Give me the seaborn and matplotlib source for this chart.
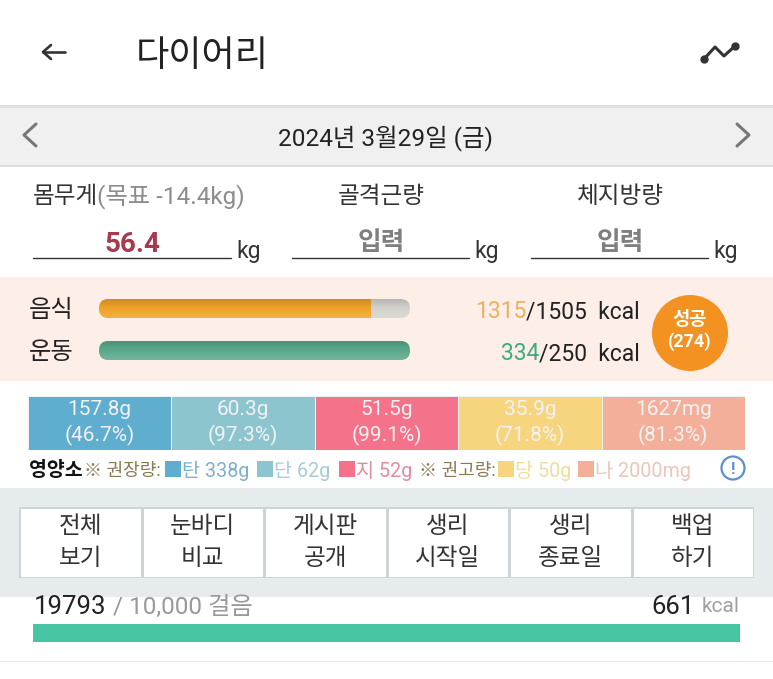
import matplotlib
matplotlib.use("Agg")
import matplotlib.pyplot as plt
import numpy as np
import seaborn as sns
from matplotlib.colors import ListedColormap
from matplotlib.patches import Ellipse, FancyBboxPatch, Rectangle

W, H = 773, 679

# values
FOOD_KCAL, FOOD_GOAL = 1315, 1505
EXERCISE_KCAL, EXERCISE_GOAL = 334, 250
STEPS, STEP_GOAL = 19793, 10000
STEP_KCAL = 661
RESULT_KCAL = 274
WEIGHT = 56.4
WEIGHT_GOAL_DIFF = -14.4

MACRO_AMOUNTS = ["157.8g", "60.3g", "51.5g", "35.9g", "1627mg"]
MACRO_PCTS = [46.7, 97.3, 99.1, 71.8, 81.3]
MACRO_COLORS = ["#5FADCF", "#8DC5CF", "#F4738B", "#F6D57E", "#F4AF9A"]

LEGEND_NAMES = ["탄 338g", "단 62g", "지 52g", "당 50g", "나 2000mg"]
LEGEND_TEXT_COLORS = ["#7FB0CB", "#A3CDD5", "#E08CA0", "#F0DC9E", "#EDC4B8"]

MENU_TOP = ["전체", "눈바디", "게시판", "생리", "생리", "백업"]
MENU_BOTTOM = ["보기", "비교", "공개", "시작일", "종료일", "하기"]

FIELDS = ["골격근량", "체지방량"]

sns.set_theme(style="white")
plt.rcParams["font.family"] = ["Roboto", "Noto Sans CJK KR", "DejaVu Sans"]


def px_axes(fig, x0, y0, x1, y1):
    ax = fig.add_axes([x0 / W, 1 - y1 / H, (x1 - x0) / W, (y1 - y0) / H])
    ax.set_axis_off()
    return ax


def progress_bar(fig, base, box, value, goal, color, track, rounded=True, shade=True):
    x0, y0, x1, y1 = box
    ax = px_axes(fig, x0, y0, x1, y1)
    sns.barplot(x=[goal], y=[0], orient="h", color=track, width=1, saturation=1, linewidth=0, ax=ax)
    sns.barplot(x=[value], y=[0], orient="h", color=color, width=1, saturation=1, linewidth=0, ax=ax)
    ax.set_xlim(0, goal)
    ax.set_ylim(0.5, -0.5)
    ax.set_axis_off()
    artists = list(ax.patches)
    if shade:
        # darker top edge, lighter bottom edge like the app's bars
        grad = np.zeros((32, 1, 4))
        grad[:, 0, 3] = np.abs(np.linspace(0.14, -0.14, 32))
        grad[16:, 0, :3] = 1
        artists.append(ax.imshow(grad, extent=(0, goal, 0.5, -0.5), aspect="auto", zorder=5))
        ax.set_xlim(0, goal)
        ax.set_ylim(0.5, -0.5)
    if rounded:
        r = (y1 - y0) / 2
        clip = FancyBboxPatch((x0, y0), x1 - x0, y1 - y0, boxstyle=f"round,pad=0,rounding_size={r}",
                              transform=base.transData)
        for a in artists:
            a.set_clip_path(clip)
    return ax


def plot_diary():
    fig = plt.figure(figsize=(W / 100, H / 100), dpi=100, facecolor="white")
    base = fig.add_axes([0, 0, 1, 1])
    base.set_xlim(0, W)
    base.set_ylim(H, 0)
    base.set_axis_off()

    def band(y0, y1, color, x0=0, x1=W, z=1):
        base.add_patch(Rectangle((x0, y0), x1 - x0, y1 - y0, color=color, lw=0, zorder=z))

    def text(x, y, s, size=16, color="#222222", ha="left", weight="normal", z=3):
        # va=center sits a little high with these fonts
        return base.text(x, y + size * 0.12, s, fontsize=size, color=color, ha=ha, va="center",
                         fontweight=weight, zorder=z)

    # header
    text(136, 53, "다이어리", size=26)
    base.plot([43, 65], [52, 52], color="#333333", lw=1.9)
    base.plot([51, 43, 51], [45, 52, 59], color="#333333", lw=1.9)
    base.plot([704, 715, 724, 735], [59, 47, 56, 46], color="#333333", lw=2.2, marker="o", ms=5, markevery=[0, 3])

    # date bar
    band(105, 108, "#E0E0E0")
    band(108, 165, "#F0F0F0")
    band(165, 166.5, "#DDDDDD")
    text(386, 136, "2024년 3월29일 (금)", size=17.6, ha="center")
    base.plot([36, 24, 36], [124, 135, 146], color="#777777", lw=2.2)
    base.plot([737, 749, 737], [124, 135, 146], color="#777777", lw=2.2)

    # body measurements
    text(33, 194, "몸무게", size=17, color="#333333")
    text(97, 194, f"(목표 {WEIGHT_GOAL_DIFF}kg)", size=17.5, color="#8C8C8C")
    text(381, 194, FIELDS[0], size=17, ha="center", color="#333333")
    text(620, 194, FIELDS[1], size=17, ha="center", color="#333333")
    text(132, 242, f"{WEIGHT}", size=20, ha="center", color="#A83A50", weight="bold")
    text(381, 241, "입력", size=18.5, ha="center", color="#7F7F7F", weight="bold")
    text(620, 241, "입력", size=18.5, ha="center", color="#7F7F7F", weight="bold")
    for x0, x1 in [(33, 231), (292, 469), (531, 708)]:
        base.plot([x0, x1], [257.5, 257.5], color="#333333", lw=1.0)
        text(x1 + 5, 250, "kg", size=16.5, color="#333333")

    # calorie block
    band(277, 381, "#FDEEE8")
    text(29, 308, "음식", size=17.5)
    text(29, 350, "운동", size=17.5)
    progress_bar(fig, base, (99, 299, 410, 318), FOOD_KCAL, FOOD_GOAL, "#F0A328", "#D5D3CF")
    progress_bar(fig, base, (99, 341, 410, 360), EXERCISE_KCAL, EXERCISE_GOAL, "#5BA98C", "#D5D3CF")

    t = text(640, 310, "/%d  kcal" % FOOD_GOAL, size=16.5, ha="right")
    fig.canvas.draw()
    left = t.get_window_extent().transformed(base.transData.inverted()).x0
    text(left, 310, f"{FOOD_KCAL}", size=16.5, ha="right", color="#EDB063")
    t = text(640, 352, "/%d  kcal" % EXERCISE_GOAL, size=16.5, ha="right")
    left = t.get_window_extent().transformed(base.transData.inverted()).x0
    text(left, 352, f"{EXERCISE_KCAL}", size=16.5, ha="right", color="#3FA97F")

    base.add_patch(Ellipse((690, 333), 76, 76, color="#F39220", lw=0, zorder=2))
    text(690, 318, "성공", size=13.5, ha="center", color="white", weight="bold")
    text(690, 340, f"({RESULT_KCAL})", size=13, ha="center", color="white", weight="bold")

    # macro strip
    ax_macro = px_axes(fig, 28, 396, 745, 450)
    macro_codes = np.arange(len(MACRO_PCTS)).reshape(1, -1)
    macro_labels = np.array([[f"{a}\n({p}%)" for a, p in zip(MACRO_AMOUNTS, MACRO_PCTS)]])
    sns.heatmap(macro_codes, annot=macro_labels, fmt="", cmap=ListedColormap(MACRO_COLORS), cbar=False,
                linewidths=0.5, linecolor="#EAF2F2", xticklabels=False, yticklabels=False, ax=ax_macro,
                annot_kws={"fontsize": 15, "color": "#F2F2F2", "linespacing": 1.3})

    # legend row
    text(29, 469, "영양소", size=14, color="#111111", weight="bold")
    text(84, 469, "※ 권장량:", size=13, color="#8A7A52")
    text(419, 469, "※ 권고량:", size=13, color="#8A7A52")
    swatch_x = [165, 257, 339, 498, 578]
    for x, name, swatch, col in zip(swatch_x, LEGEND_NAMES, MACRO_COLORS, LEGEND_TEXT_COLORS):
        base.add_patch(Rectangle((x, 461), 16, 16, color=swatch, lw=0, zorder=2))
        text(x + 17, 469, name, size=14.2, color=col)
    base.add_patch(Ellipse((733, 468), 23, 23, fc="white", ec="#5B8FD0", lw=1.6, zorder=2))
    text(733, 468, "!", size=12, ha="center", color="#5B8FD0", weight="bold")

    # steps sit under the grey band so the top of the text gets cut off
    text(34, 605, f"{STEPS}", size=18.5, color="#222222")
    text(113, 605, "/ %s 걸음" % format(STEP_GOAL, ","), size=17.5, color="#999999")
    text(695, 605, f"{STEP_KCAL}", size=18.5, ha="right", color="#222222")
    text(740, 605, "kcal", size=15, ha="right", color="#A0A0A0")
    band(488, 597, "#E6EBEE", z=2)
    progress_bar(fig, base, (33, 624, 740, 642), STEPS, STEP_GOAL, "#47C4A2", "#47C4A2", rounded=False, shade=False)
    band(661, 662, "#E8E8E8")

    # menu table
    ax_menu = px_axes(fig, 19, 507, 754, 578)
    menu_labels = np.array([[f"{a}\n{b}" for a, b in zip(MENU_TOP, MENU_BOTTOM)]])
    sns.heatmap(np.zeros((1, len(MENU_TOP))), annot=menu_labels, fmt="", cmap=ListedColormap(["white"]), cbar=False,
                linewidths=0.9, linecolor="#CDD3D6", xticklabels=False, yticklabels=False,
                ax=ax_menu, annot_kws={"fontsize": 17, "color": "#333333", "linespacing": 1.5})
    return fig


if __name__ == "__main__":
    plot_diary().savefig("out.png", dpi=100)
